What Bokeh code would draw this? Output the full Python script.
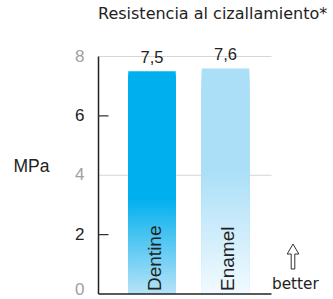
import numpy as np
from bokeh.plotting import figure
from bokeh.models import Range1d
from bokeh.core.properties import value
from bokeh.embed import file_html
from bokeh.resources import INLINE

# ---- data ----
categories = ["Dentine", "Enamel"]
values = [7.5, 7.6]
value_labels = ["7,5", "7,6"]
tick_values = [0, 2, 4, 6, 8]
tick_labels = ["0", "2", "4", "6", "8"]
tick_label_colors = ["#a0a0a0", "#222222", "#a0a0a0", "#222222", "#a0a0a0"]
tick_marks = [2, 6]
grid_values = [4, 8]
title_text = "Resistencia al cizallamiento*"
y_title = "MPa"
hint_text = "better"

SANS = value("Liberation Sans")
WIDE = value("DejaVu Sans")
W, H = 333, 299
AX_X, AX_R = 98, 271          # axis x and right end of plot area (px)
Y_TOP, Y_ZERO = 56, 293.5     # px of y=8 and y=0
PX_PER_CAT = 73.5
X0 = 0.5 - (151.5 - AX_X) / PX_PER_CAT   # data x at axis
PX_PER_Y = (Y_ZERO - Y_TOP) / 8.0

def dx(fx):
    return X0 + (fx - AX_X) / PX_PER_CAT

def dy(fy):
    return (Y_ZERO - fy) / PX_PER_Y

p = figure(width=W, height=H, output_backend="svg", toolbar_location=None,
           x_range=Range1d(dx(0), dx(W)), y_range=Range1d(dy(H), dy(0)),
           min_border=0)
p.outline_line_color = None
p.axis.visible = False
p.grid.visible = False
p.background_fill_color = "white"
p.border_fill_color = "white"

ymax = max(tick_values)
# grid lines
p.segment(x0=[dx(AX_X)] * len(grid_values), x1=[dx(AX_R)] * len(grid_values),
          y0=grid_values, y1=grid_values, line_color="#d6d6d6", line_width=1)

# gradient bars: nested quads drawn from full height downwards
def hex2rgb(h):
    h = h.lstrip("#")
    return np.array([int(h[i:i + 2], 16) for i in (0, 2, 4)], dtype=float)

def rgb2hex(c):
    return "#%02x%02x%02x" % tuple(int(round(v)) for v in c)

grad = {
    "Dentine": ("#00b0ee", "#b6e3f8", 0.43),
    "Enamel": ("#aadff7", "#f2faff", 0.55),
}
N = 80
bw = 47.5 / PX_PER_CAT
L, R, T, B, C = [], [], [], [], []
for i, (cat, v) in enumerate(zip(categories, values)):
    top_c, bot_c, knee = grad[cat]
    tc, bc = hex2rgb(top_c), hex2rgb(bot_c)
    edges = np.linspace(0, v, N + 1)
    for k in range(N - 1, -1, -1):
        f = (edges[k] + edges[k + 1]) / 2 / v
        t = min(f / knee, 1.0)
        col = bc + (tc - bc) * t
        L.append(i + 0.5 - bw / 2)
        R.append(i + 0.5 + bw / 2)
        B.append(0)
        T.append(edges[k + 1])
        C.append(rgb2hex(col))
p.quad(left=L, right=R, top=T, bottom=B, fill_color=C, line_color=None)

# axis lines and ticks
p.segment(x0=[dx(AX_X)], x1=[dx(AX_X)], y0=[0], y1=[ymax],
          line_color="#222222", line_width=1.5)
p.segment(x0=[dx(AX_X)], x1=[dx(AX_R)], y0=[0], y1=[0],
          line_color="#222222", line_width=1.5)
p.segment(x0=[dx(AX_X)] * len(tick_marks), x1=[dx(AX_X + 10)] * len(tick_marks),
          y0=tick_marks, y1=tick_marks, line_color="#333333", line_width=1.2)

# tick labels (lowest one kept inside the canvas)
label_y = [max(v, dy(H - 10)) for v in tick_values]
p.text(x=[dx(AX_X - 14)] * len(tick_values), y=label_y, text=tick_labels,
       y_offset=-1, text_color=tick_label_colors, text_align="right",
       text_baseline="middle", text_font=SANS, text_font_size="17px")

xc = [i + 0.5 for i in range(len(categories))]
# value labels
p.text(x=xc, y=values, text=value_labels, y_offset=-14, text_align="center",
       text_baseline="middle", text_font=SANS, text_font_size="16.5px",
       text_color="#222222")
# category labels inside bars
p.text(x=xc, y=[0] * len(categories), text=categories, angle=np.pi / 2,
       x_offset=2, y_offset=-3, text_align="left", text_baseline="middle",
       text_font=SANS, text_font_size="19px", text_color="#222222")

# axis title
p.text(x=[dx(13)], y=[dy(165.5)], text=[y_title], text_align="left",
       text_baseline="middle", text_font=SANS, text_font_size="17.5px",
       text_color="#222222")
# chart title
p.text(x=[dx(97.5)], y=[dy(13.2)], text=[title_text], text_align="left",
       text_baseline="middle", text_font=WIDE, text_font_size="16px",
       text_color="#222222")
# better hint
p.text(x=[dx(271.5)], y=[dy(283)], text=[hint_text], text_align="left",
       text_baseline="middle", text_font=WIDE, text_font_size="15.3px",
       text_color="#222222")
# hollow up arrow above the hint
acx, atop, aneck, abot, ahw, asw = 292.5, 243.5, 253.5, 268.5, 5.8, 1.8
arrow_px = [(acx - asw, abot), (acx - asw, aneck), (acx - ahw, aneck), (acx, atop),
            (acx + ahw, aneck), (acx + asw, aneck), (acx + asw, abot)]
p.patch(x=[dx(a) for a, _ in arrow_px], y=[dy(b) for _, b in arrow_px],
        fill_color="white", line_color="#333333", line_width=1)

open("out.html", "w").write(file_html(p, INLINE))
